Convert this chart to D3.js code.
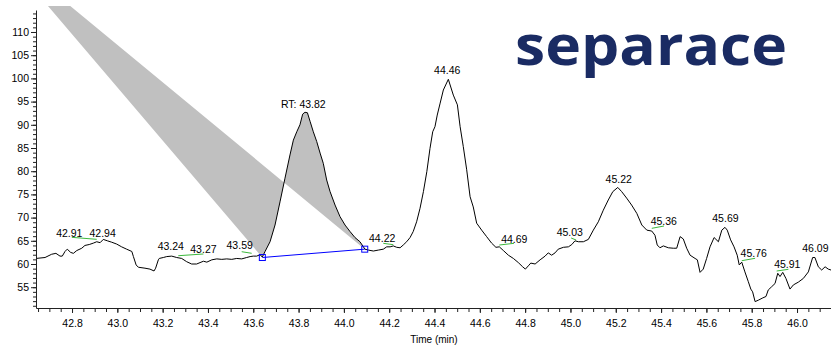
<!DOCTYPE html>
<html>
<head>
<meta charset="utf-8">
<script src="https://cdn.jsdelivr.net/npm/d3@7"></script>
<style>
  html, body { margin: 0; padding: 0; background: #fff; }
  svg { display: block; font-family: 'Liberation Sans', Arial, sans-serif; }
</style>
</head>
<body>
<div id="chart"></div>
<script>
// chromatogram trace (time in min, relative abundance)
const times = [
  42.641, 42.681, 42.710, 42.729, 42.747, 42.757, 42.769, 42.779, 42.794, 42.806,
  42.821, 42.843, 42.857, 42.876, 42.894, 42.909, 42.924, 42.938, 42.956, 42.975,
  42.997, 43.019, 43.041, 43.064, 43.071, 43.083, 43.093, 43.122, 43.144, 43.162,
  43.169, 43.181, 43.185, 43.203, 43.218, 43.240, 43.262, 43.284, 43.306, 43.328,
  43.350, 43.365, 43.380, 43.395, 43.417, 43.439, 43.461, 43.483, 43.505, 43.527,
  43.549, 43.571, 43.586, 43.600, 43.615, 43.630, 43.640, 43.652, 43.674, 43.696,
  43.718, 43.740, 43.762, 43.777, 43.792, 43.806, 43.818, 43.828, 43.839, 43.851,
  43.865, 43.880, 43.895, 43.909, 43.924, 43.939, 43.961, 43.983, 44.005, 44.027,
  44.049, 44.071, 44.093, 44.108, 44.130, 44.152, 44.174, 44.189, 44.204, 44.218,
  44.233, 44.248, 44.262, 44.277, 44.292, 44.306, 44.321, 44.336, 44.351, 44.366,
  44.380, 44.392, 44.402, 44.412, 44.424, 44.439, 44.461, 44.483, 44.501, 44.513,
  44.527, 44.542, 44.557, 44.571, 44.586, 44.608, 44.630, 44.652, 44.671, 44.686,
  44.704, 44.726, 44.748, 44.770, 44.789, 44.801, 44.814, 44.825, 44.844, 44.866,
  44.888, 44.902, 44.917, 44.932, 44.946, 44.969, 44.991, 45.006, 45.020, 45.035,
  45.057, 45.079, 45.101, 45.123, 45.145, 45.167, 45.187, 45.209, 45.226, 45.248,
  45.270, 45.293, 45.315, 45.337, 45.359, 45.373, 45.383, 45.395, 45.410, 45.432,
  45.454, 45.469, 45.484, 45.498, 45.513, 45.528, 45.550, 45.560, 45.572, 45.586,
  45.601, 45.616, 45.634, 45.653, 45.668, 45.682, 45.692, 45.707, 45.722, 45.736,
  45.745, 45.756, 45.770, 45.785, 45.796, 45.804, 45.815, 45.829, 45.849, 45.863,
  45.873, 45.888, 45.903, 45.915, 45.925, 45.937, 45.951, 45.969, 45.984, 46.006,
  46.028, 46.050, 46.069, 46.079, 46.094, 46.109, 46.124, 46.138, 46.150
];
const signal = [
  61.2, 61.4, 62.1, 62.3, 61.7, 61.7, 62.7, 63.2, 62.5, 62.3,
  62.9, 63.4, 64.0, 64.2, 64.5, 64.8, 64.6, 65.3, 65.0, 64.7,
  64.3, 63.7, 63.2, 62.7, 61.6, 59.8, 59.3, 59.1, 58.9, 58.5,
  59.1, 60.9, 61.2, 61.4, 61.6, 61.7, 61.4, 61.2, 60.5, 60.0,
  60.0, 60.3, 60.6, 60.4, 60.9, 61.1, 61.0, 61.1, 61.0, 61.2,
  61.1, 61.4, 61.6, 61.7, 61.7, 62.0, 61.5, 62.7, 64.8, 68.4,
  73.4, 78.5, 83.5, 86.7, 88.5, 90.0, 92.3, 92.7, 92.6, 90.7,
  88.5, 86.4, 83.9, 81.7, 78.1, 75.6, 72.7, 70.2, 68.4, 67.0,
  65.7, 64.8, 63.2, 63.0, 62.8, 63.0, 63.2, 63.7, 63.7, 63.9,
  63.6, 63.5, 64.1, 64.8, 65.7, 67.0, 69.1, 72.0, 75.6, 79.9,
  84.9, 88.5, 89.6, 92.1, 94.5, 97.5, 99.8, 96.4, 94.3, 89.6,
  85.3, 80.3, 74.5, 72.3, 68.8, 67.3, 65.9, 64.5, 63.6, 63.7,
  62.9, 61.9, 61.2, 60.3, 59.4, 58.9, 59.6, 60.2, 60.0, 60.9,
  61.7, 62.4, 61.9, 62.4, 63.2, 63.6, 63.7, 64.2, 65.0, 64.8,
  64.8, 65.3, 67.3, 69.1, 71.6, 73.8, 75.6, 76.5, 75.6, 74.2,
  72.7, 70.9, 68.4, 67.3, 67.1, 66.2, 64.1, 63.5, 63.9, 63.5,
  63.4, 63.4, 65.9, 65.4, 63.4, 61.9, 61.2, 60.9, 58.2, 58.9,
  61.2, 63.7, 65.7, 64.8, 67.3, 67.9, 67.3, 65.2, 63.7, 61.9,
  59.8, 60.4, 58.3, 56.2, 54.6, 54.0, 51.9, 52.2, 52.7, 53.0,
  54.4, 55.1, 55.8, 58.0, 57.3, 58.2, 56.9, 54.6, 55.5, 56.1,
  56.9, 58.3, 61.4, 61.4, 59.4, 58.7, 59.4, 58.9, 58.7
];

// integrated peak: baseline start / end and the stray fill vertex
const peakStart = [43.640, 61.4];
const peakEnd = [44.092, 63.2];
const fillVertex = [42.46, 129.0];

// peak labels: text, time, abundance (baseline of text)
const labelTexts = ['42.91', '42.94', '43.24', '43.27', '43.59', 'RT: 43.82', '44.22', '44.46',
  '44.69', '45.03', '45.22', '45.36', '45.69', '45.76', '45.91', '46.09'];
const labelTimes = [42.788, 42.935, 43.236, 43.380, 43.540, 43.821, 44.169, 44.456,
  44.752, 44.997, 45.213, 45.412, 45.684, 45.809, 45.957, 46.081];
const labelLevels = [65.9, 65.9, 63.0, 62.4, 63.2, 93.7, 64.8, 101.0,
  64.6, 66.0, 77.5, 68.4, 69.0, 61.6, 59.2, 62.5];

// green peak markers: [t1, v1, t2, v2]
const markers = [
  [42.799, 65.75, 42.909, 65.32],
  [43.269, 61.79, 43.380, 62.16],
  [43.549, 62.65, 43.593, 62.31],
  [44.174, 64.46, 44.218, 64.16],
  [44.686, 64.09, 44.751, 64.46],
  [45.003, 65.60, 45.025, 65.17],
  [45.359, 67.69, 45.413, 68.19],
  [45.756, 60.71, 45.815, 61.23],
  [45.910, 58.49, 45.962, 58.86]
];

const xTicks = [42.8, 43.0, 43.2, 43.4, 43.6, 43.8, 44.0, 44.2, 44.4, 44.6, 44.8, 45.0, 45.2, 45.4, 45.6, 45.8, 46.0];
const yTicks = [55, 60, 65, 70, 75, 80, 85, 90, 95, 100, 105, 110];
const xDomain = [42.641, 46.150];
const yDomain = [50.52, 114.74];

const width = 831, height = 346;
const margin = { top: 10, right: 0, bottom: 38, left: 36 };

const svg = d3.select('#chart')
  .append('svg')
  .attr('width', width)
  .attr('height', height);

const x = d3.scaleLinear().domain(xDomain).range([margin.left, width - margin.right]);
const y = d3.scaleLinear().domain(yDomain).range([height - margin.bottom, margin.top]);

svg.append('clipPath')
  .attr('id', 'plot-clip')
  .append('rect')
  .attr('x', margin.left)
  .attr('y', 6)
  .attr('width', width - margin.left)
  .attr('height', height - margin.bottom - 6);

const plot = svg.append('g').attr('clip-path', 'url(#plot-clip)');

const points = times.map((t, i) => [t, signal[i]]);
const iStart = times.indexOf(peakStart[0]);
const iEnd = times.indexOf(44.093);
const peakPts = points.slice(iStart, iEnd + 1);

// peak area fill (with the odd vertex it was drawn with)
const fillPts = [fillVertex, peakStart].concat(peakPts, [peakEnd]);
plot.append('path')
  .attr('d', d3.line().x(d => x(d[0])).y(d => y(d[1]))(fillPts) + 'Z')
  .attr('fill', '#c0c0c0')
  .attr('fill-rule', 'evenodd')
  .attr('stroke', 'none');

// trace
plot.append('path')
  .datum(points)
  .attr('d', d3.line().x(d => x(d[0])).y(d => y(d[1])))
  .attr('fill', 'none')
  .attr('stroke', '#000')
  .attr('stroke-width', 1);

// baseline of the integrated peak
plot.append('line')
  .attr('x1', x(peakStart[0])).attr('y1', y(peakStart[1]))
  .attr('x2', x(peakEnd[0])).attr('y2', y(peakEnd[1]))
  .attr('stroke', '#0000ff')
  .attr('stroke-width', 1);

plot.selectAll('.peak-end')
  .data([peakStart, peakEnd])
  .enter()
  .append('rect')
  .attr('class', 'peak-end')
  .attr('x', d => x(d[0]) - 3)
  .attr('y', d => y(d[1]) - 3)
  .attr('width', 6)
  .attr('height', 6)
  .attr('fill', 'none')
  .attr('stroke', '#0000ff')
  .attr('stroke-width', 1);

// green markers
plot.selectAll('.marker')
  .data(markers)
  .enter()
  .append('line')
  .attr('class', 'marker')
  .attr('x1', d => x(d[0])).attr('y1', d => y(d[1]))
  .attr('x2', d => x(d[2])).attr('y2', d => y(d[3]))
  .attr('stroke', '#3cb83c')
  .attr('stroke-width', 1);

// labels
svg.selectAll('.peak-label')
  .data(labelTexts)
  .enter()
  .append('text')
  .attr('class', 'peak-label')
  .attr('x', (d, i) => x(labelTimes[i]))
  .attr('y', (d, i) => y(labelLevels[i]))
  .attr('text-anchor', 'middle')
  .attr('font-size', '10.5px')
  .attr('fill', '#000')
  .text(d => d);

// axes
const xMinor = d3.range(42.65, 46.16, 0.05);
const yMinor = d3.range(51, 115, 1);

svg.append('g')
  .attr('transform', `translate(0,${height - margin.bottom})`)
  .call(d3.axisBottom(x).tickValues(xMinor).tickSize(4).tickFormat(''))
  .call(g => g.select('.domain').remove())
  .selectAll('line').attr('stroke', '#222');

const xAxis = svg.append('g')
  .attr('transform', `translate(0,${height - margin.bottom})`)
  .call(d3.axisBottom(x).tickValues(xTicks).tickSize(5).tickSizeOuter(0).tickPadding(7).tickFormat(d3.format('.1f')));
xAxis.select('.domain').attr('stroke', '#222');
xAxis.selectAll('line').attr('stroke', '#222');
xAxis.selectAll('text').attr('font-size', '10.5px').attr('fill', '#000').attr('font-family', 'Liberation Sans, Arial, sans-serif');

svg.append('g')
  .attr('transform', `translate(${margin.left},0)`)
  .call(d3.axisLeft(y).tickValues(yMinor).tickSize(3).tickFormat(''))
  .call(g => g.select('.domain').remove())
  .selectAll('line').attr('stroke', '#222');

const yAxis = svg.append('g')
  .attr('transform', `translate(${margin.left},0)`)
  .call(d3.axisLeft(y).tickValues(yTicks).tickSize(5).tickSizeOuter(0).tickPadding(2));
yAxis.select('.domain').attr('stroke', '#222');
yAxis.selectAll('line').attr('stroke', '#222');
yAxis.selectAll('text').attr('font-size', '10.5px').attr('fill', '#000').attr('font-family', 'Liberation Sans, Arial, sans-serif');

svg.append('text')
  .attr('x', 434)
  .attr('y', 343)
  .attr('text-anchor', 'middle')
  .attr('font-size', '10px')
  .attr('fill', '#000')
  .text('Time (min)');

// logo
svg.append('text')
  .attr('x', 515)
  .attr('y', 65)
  .attr('font-family', "'Open Sans', 'DejaVu Sans', sans-serif")
  .attr('font-weight', 'bold')
  .attr('font-size', '56px')
  .attr('textLength', 272)
  .attr('lengthAdjust', 'spacingAndGlyphs')
  .attr('fill', '#1a2b63')
  .text('separace');
</script>
</body>
</html>
